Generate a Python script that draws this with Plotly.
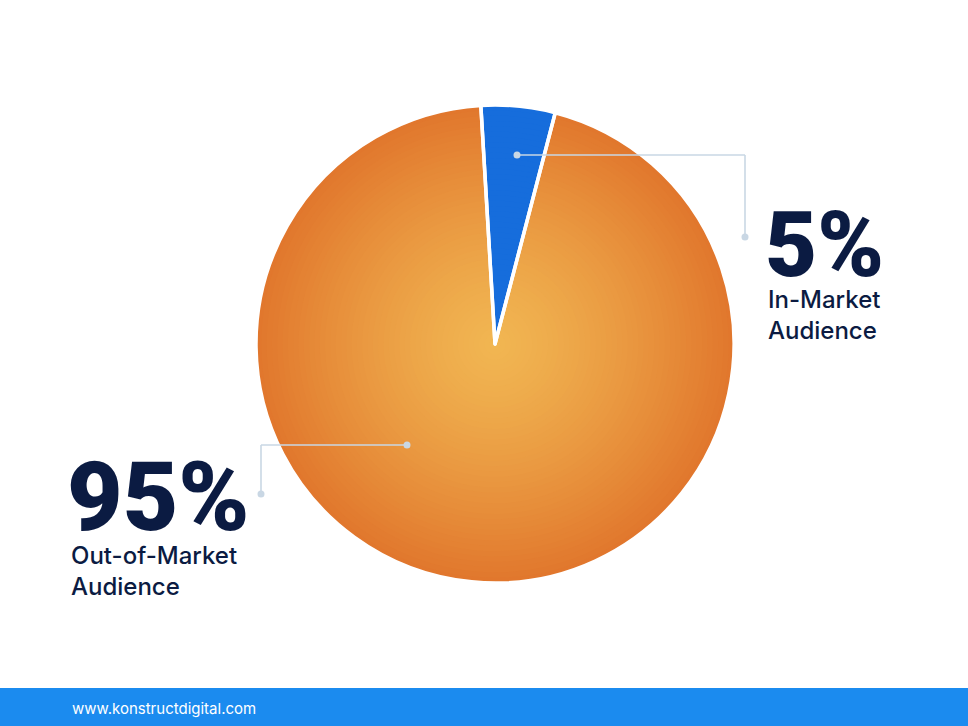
import plotly.graph_objects as go

# ---- data ----
categories = ["In-Market Audience", "Out-of-Market Audience"]
values = [5, 95]
pct_labels = ["5%", "95%"]
label_lines = [["In-Market", "Audience"], ["Out-of-Market", "Audience"]]
footer_text = "www.konstructdigital.com"

W, H = 968, 726
NAVY = "#0b1b42"
BLUE = "#166ddc"
LEADER = "#c9d7e4"

def px(x):
    return x / W

def py(y):
    return 1 - y / H

# pie geometry (pixels)
cx, cy, R = 495, 344, 239

def hex2rgb(h):
    h = h.lstrip("#")
    return tuple(int(h[i:i + 2], 16) for i in (0, 2, 4))

edge = hex2rgb("#e1772d")
center = hex2rgb("#f1b652")

def mix(t):
    # t=0 center, t=1 edge
    tt = t ** 1.3
    return "rgb(%d,%d,%d)" % tuple(round(c + (e - c) * tt) for c, e in zip(center, edge))

fig = go.Figure()

N = 45
for i in range(N):
    f = 1 - i / N
    r = R * f
    fig.add_trace(go.Pie(
        labels=categories, values=values, sort=False, direction="clockwise",
        rotation=-3.4, textinfo="none", hoverinfo="skip", showlegend=False,
        marker=dict(colors=[BLUE, mix(f)], line=dict(width=0)),
        domain=dict(x=[px(cx - r), px(cx + r)], y=[py(cy + r), py(cy - r)]),
    ))

# white separators on top
fig.add_trace(go.Pie(
    labels=categories, values=values, sort=False, direction="clockwise",
    rotation=-3.4, textinfo="none", showlegend=False,
    hovertemplate="%{label}: %{value}%<extra></extra>",
    marker=dict(colors=["rgba(0,0,0,0)", "rgba(0,0,0,0)"], line=dict(color="white", width=3.5)),
    domain=dict(x=[px(cx - R), px(cx + R)], y=[py(cy + R), py(cy - R)]),
))

shapes = []
# leader lines
def seg(x0, y0, x1, y1):
    shapes.append(dict(type="line", xref="paper", yref="paper",
                       x0=px(x0), y0=py(y0), x1=px(x1), y1=py(y1),
                       line=dict(color=LEADER, width=1.6)))

def dot(x, y, r=3.5):
    shapes.append(dict(type="circle", xref="paper", yref="paper",
                       x0=px(x - r), y0=py(y + r), x1=px(x + r), y1=py(y - r),
                       fillcolor=LEADER, line=dict(width=0)))

seg(517, 155, 745, 155)
seg(745, 155, 745, 237)
dot(517, 155)
dot(745, 237)

seg(407, 445, 261, 445)
seg(261, 445, 261, 494)
dot(407, 445)
dot(261, 494)

# footer bar
shapes.append(dict(type="rect", xref="paper", yref="paper", x0=0, x1=1,
                   y0=0, y1=py(688), fillcolor="#1b8bef", line=dict(width=0), layer="above"))

annotations = []
def txt(s, x, y, size, weight, color=NAVY, family="Inter"):
    annotations.append(dict(text=s, x=px(x), y=py(y), xref="paper", yref="paper",
                            xanchor="left", yanchor="middle", showarrow=False,
                            align="left",
                            font=dict(family=family, size=size, color=color, weight=weight)))

txt(pct_labels[0], 763, 245, 90, 900, family="Roboto")
txt("<br>".join(label_lines[0]), 766, 315, 24, 500)
txt(pct_labels[1], 65, 497, 96, 900, family="Roboto")
txt("<br>".join(label_lines[1]), 69, 571, 24, 500)
txt(footer_text, 70, 708, 15, 400, color="white")

fig.update_layout(
    width=W, height=H, margin=dict(l=0, r=0, t=0, b=0),
    paper_bgcolor="white", plot_bgcolor="white",
    shapes=shapes, annotations=annotations,
)

fig.write_html("out.html", config={"displayModeBar": False},
               post_script="document.body.style.margin='0';document.body.style.overflow='hidden';")
